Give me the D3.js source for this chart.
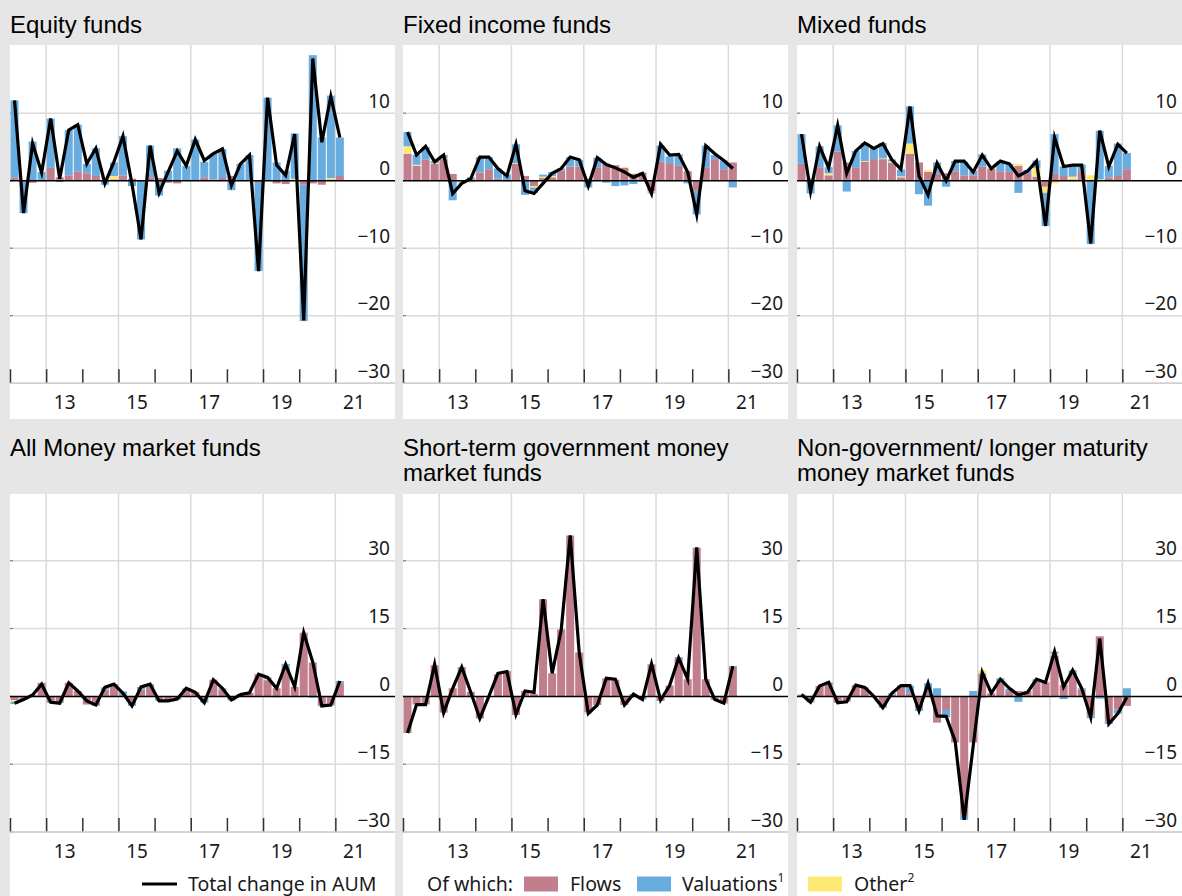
<!DOCTYPE html>
<html><head><meta charset="utf-8">
<script src="https://cdn.jsdelivr.net/npm/d3@7"></script>
<style>body{margin:0;background:#e6e6e6;} svg{display:block}</style>
</head><body><svg id="c" width="1182" height="896"></svg>
<script>
// ---- categories (quarters) ----
const quarters = ["2012Q1","2012Q2","2012Q3","2012Q4","2013Q1","2013Q2","2013Q3","2013Q4",
"2014Q1","2014Q2","2014Q3","2014Q4","2015Q1","2015Q2","2015Q3","2015Q4",
"2016Q1","2016Q2","2016Q3","2016Q4","2017Q1","2017Q2","2017Q3","2017Q4",
"2018Q1","2018Q2","2018Q3","2018Q4","2019Q1","2019Q2","2019Q3","2019Q4",
"2020Q1","2020Q2","2020Q3","2020Q4","2021Q1"];
const yearTicks = [2012,2013,2014,2015,2016,2017,2018,2019,2020,2021];
const gridYears = [2013,2015,2017,2019,2021];
const yearLabels = ["13","15","17","19","21"];
const topTicks = [10,0,-10,-20,-30];
const bottomTicks = [30,15,0,-15,-30];

// ---- Equity funds ----
const eqTotal = [11.9,-4.8,5.5,1.2,9.2,0.3,7.5,8.3,2.5,4.8,-0.4,2.8,6.6,-0.5,-8.7,5.2,-1.8,1.3,4.4,2.2,6.1,3.0,4.0,4.7,-0.7,2.5,3.8,-13.4,12.3,2.3,0.8,6.9,-20.7,18.1,5.7,12.5,6.4];
const eqFlows = [0.5,-0.3,-0.3,-0.1,1.9,0.5,0.8,1.4,1.1,0.7,-0.2,0.2,0.8,0.3,-0.2,0.5,0.4,-0.3,-0.4,0.1,0.1,0.5,0.2,0.4,0.7,0.1,0.1,-0.2,0.1,-0.4,-0.5,0.1,-0.6,-0.4,-0.6,0.2,0.7];
const eqOther = [0,0,0,0,0,0,0,0,0,0,0,0.5,0,0,0,0,0,0,0,0,0,0,0,0,0,0,0,0,0,0,0,0.2,0,0,0,0.2,0];
const eqVal = [11.4,-4.5,5.8,1.3,7.3,-0.2,6.7,6.9,1.4,4.1,-0.4,2.0,5.8,-0.8,-8.5,4.7,-2.2,1.5,4.8,2.1,6.0,2.3,3.8,4.3,-1.4,2.4,3.7,-13.2,12.2,2.7,1.5,6.7,-20.2,18.6,6.4,12.2,5.7];

// ---- Fixed income funds ----
const fiTotal = [7.2,3.8,5.1,2.8,3.8,-1.9,-0.4,0.3,3.5,3.5,1.8,0.7,5.4,-1.5,-1.9,-0.4,1.1,1.8,3.5,3.1,-0.8,3.4,2.4,1.9,1.3,0.5,1.1,-1.9,5.4,3.8,3.9,1.3,-5.0,5.2,4.0,3.0,1.8];
const fiFlows = [4.0,2.2,3.1,2.5,3.2,1.0,-0.1,-0.1,1.2,1.7,0.3,0.0,2.5,0.7,-0.8,0.4,0.5,1.5,2.1,2.1,0.3,1.9,2.5,2.3,1.9,1.0,1.2,-1.6,2.8,2.6,2.2,1.4,-1.5,1.9,3.2,1.7,2.7];
const fiOther = [1.1,0.15,0,0.1,0.1,0,-0.2,-0.2,0,0,0,-0.2,0.1,0,-0.2,0.2,0.2,0,0,0,0,0,0,0,0.15,0.1,0,-0.15,0,0,0,0,0,0,0,0,0];
const fiVal = [2.1,1.5,1.9,0.3,0.5,-2.9,-0.1,0.5,2.3,1.8,1.5,0.9,2.8,-2.1,-0.8,0.3,0.6,0.3,1.4,1.0,-1.0,1.5,-0.3,-0.8,-0.7,-0.5,-0.1,-0.1,2.4,1.0,1.7,-0.4,-3.5,3.3,0.6,1.3,-1.0];

// ---- Mixed funds ----
const mxTotal = [6.9,-1.6,5.1,1.9,8.2,1.1,4.4,5.6,4.8,5.5,3.1,1.7,11.0,0.7,-2.1,2.6,0.0,2.9,2.9,1.3,3.8,1.8,2.9,2.5,0.7,1.4,2.9,-6.7,6.4,2.1,2.3,2.3,-9.3,7.4,2.1,5.4,4.1];
const mxFlows = [2.5,0.3,2.0,0.8,4.3,2.7,2.0,2.8,3.2,3.2,2.7,0.5,4.0,2.7,1.3,1.1,1.1,1.4,0.8,0.8,2.1,1.8,1.4,1.3,2.2,1.0,0.6,-0.9,1.0,0.7,0.2,1.3,-0.2,0.1,0.5,0.7,1.7];
const mxOther = [0,0,0,0.3,0,0,0,0.1,0,0.1,0.15,0.15,1.5,0,0.3,0,0,0,0,0,0,0,0,0,0.3,-0.1,1.3,-0.9,-0.4,0,0.4,0,0.8,0.1,-0.1,0,0];
const mxVal = [4.4,-1.9,3.1,0.9,3.9,-1.6,2.4,2.7,1.8,2.3,0.3,1.0,5.5,-2.0,-3.7,1.6,-0.9,1.5,2.0,0.7,1.8,0,1.5,1.2,-1.8,0.6,1.1,-4.9,5.9,1.4,1.8,1.1,-9.2,7.2,1.7,4.8,2.4];

// ---- All money market funds ----
const amTotal = [-1.5,-0.7,0.3,2.7,-1.3,-1.5,3.0,1.2,-1.0,-1.9,2.0,2.7,0.7,-2.1,2.1,2.7,-1.0,-1.0,-0.6,1.8,0.9,-1.4,3.7,1.8,-0.8,0.4,0.8,4.9,4.2,1.8,7.1,2.1,14.1,7.6,-2.1,-1.9,3.4];
const amFlows = [-0.8,-0.8,0.3,3.0,-1.2,-1.3,3.0,1.2,-1.8,-2.1,1.5,2.7,0.3,-1.5,1.5,2.3,-0.6,-1.0,-0.6,1.5,1.0,-1.0,3.7,1.5,-0.6,0.3,0.8,4.9,3.6,1.8,6.2,2.1,14.1,7.5,-1.9,-1.7,2.9];
const amOther = [-0.4,0,0,0,0,0,0,0,0,0,0,0,0,0,0,0,0,0,0,0,0,0,0,0,0,0,0,0,0.2,0,0,0,0.2,0,0,0,0];
const amVal = [-0.5,0,0,0,-0.2,-0.2,0,0,0,0,0.5,0,0.8,-0.6,0.6,0.4,-0.4,0,-0.1,0.3,0,-0.4,0,0.3,-0.3,0.2,0,0,0.4,-0.2,1.0,0,0,-0.3,-0.3,-0.3,0.5];

// ---- Short-term government MMFs ----
const sgTotal = [-8.1,-1.8,-1.8,7.1,-3.6,1.8,6.5,0.9,-4.9,0.0,5.1,5.5,-4.0,1.2,0.9,21.5,5.1,14.6,35.6,9.6,-3.8,-1.9,4.0,3.8,-1.9,0.5,-0.7,7.2,-0.8,2.4,8.5,3.8,33.0,3.8,-0.7,-1.5,6.7];
const sgFlows = [-8.1,-1.8,-1.7,6.9,-3.6,1.8,6.5,1.0,-4.9,0.0,4.9,5.6,-4.1,1.2,0.5,21.5,5.1,14.8,35.6,9.6,-3.5,-1.9,4.0,3.7,-1.9,0.4,-0.5,7.1,-1.0,2.4,8.5,3.8,32.9,3.8,-0.7,-1.5,6.5];
const sgOther = [0,0,0,0,0,0,0,0,0,0,0,0,0,0,0,0,0,0,0,0,-0.2,0,0,0,0,0,0,0,0,0,0,0,0,0,0,0,0];
const sgVal = [0,0,-0.1,0,0,0,0,0,0,0,0,0,0,0,0,0,0,0,0,0.1,-0.1,0,0,0,0,0.1,-0.2,0,0,0,0.2,0,0,0,-0.1,-0.1,0.2];

// ---- Non-government / longer maturity MMFs ----
const ngTotal = [0.4,-1.3,2.3,3.1,-1.4,-1.2,2.5,2.0,0.0,-2.5,0.7,2.4,2.4,-3.2,2.9,-4.3,-4.4,-9.9,-27.3,-10.9,5.3,0.7,3.8,1.8,0.3,0.9,3.8,3.1,9.9,2.1,5.8,1.8,-4.6,12.8,-6.1,-3.8,-0.2];
const ngFlows = [0,-1.0,2.3,3.1,-1.4,-1.1,2.5,2.0,0,-2.5,0.4,2.4,0.7,-2.5,1.5,-5.8,-3.0,-10.2,-26.2,-10.2,5.1,0.7,3.4,1.2,1.2,1.2,3.6,3.1,9.0,2.5,4.9,1.5,-4.2,13.3,-5.6,-2.9,-2.1];
const ngOther = [0,0,0,0,0,0,0,0,0,0,0,0,0,0,0,0,0,0,0,0,0.7,0,0,0,0,0,0,0,0.5,0,0,0,0,0,0,0,0];
const ngVal = [0.4,-0.3,0,0,0,-0.1,0,0,0,0,0.3,0,1.7,-0.7,1.4,1.8,-1.6,0,-1.1,1.2,-0.3,0,0.6,0.5,-1.2,0,0.2,0,0.4,-0.6,0.9,0.3,-0.6,-0.5,-0.5,-0.9,1.8];

// ---- build panels table from the arrays ----
const panels = [
  {title:["Equity funds"], row:0, col:0, total:eqTotal, flows:eqFlows, other:eqOther, val:eqVal},
  {title:["Fixed income funds"], row:0, col:1, total:fiTotal, flows:fiFlows, other:fiOther, val:fiVal},
  {title:["Mixed funds"], row:0, col:2, total:mxTotal, flows:mxFlows, other:mxOther, val:mxVal},
  {title:["All Money market funds"], row:1, col:0, total:amTotal, flows:amFlows, other:amOther, val:amVal},
  {title:["Short-term government money","market funds"], row:1, col:1, total:sgTotal, flows:sgFlows, other:sgOther, val:sgVal},
  {title:["Non-government/ longer maturity","money market funds"], row:1, col:2, total:ngTotal, flows:ngFlows, other:ngOther, val:ngVal}
];

const colors = {flows:"#c17f8d", val:"#69ade0", other:"#fde974"};
const W=1182, H=896;
const colX=[10,403,797], PW=385;
const rows=[
  {titleBase:[33], whiteTop:45, whiteBot:419, domain:[-30,20], range:[383.2,45.7], ticks:topTicks},
  {titleBase:[456,481], whiteTop:494, whiteBot:896, domain:[-30,45], range:[832,493], ticks:bottomTicks}
];
const LABELFONT = "'Noto Sans', 'DejaVu Sans', sans-serif";
const TITLEFONT = "'Liberation Sans', Arial, sans-serif";
const qTime = q => +q.slice(0,4) + (+q.slice(5)-1)/4;

const svg = d3.select('#c');
svg.append('rect').attr('width',W).attr('height',H).attr('fill','#e6e6e6');

panels.forEach(p=>{
  const r = rows[p.row];
  const x0 = colX[p.col];
  const g = svg.append('g');
  // title
  const t = g.append('text').attr('font-family',TITLEFONT).attr('font-size',24).attr('fill','#000');
  p.title.forEach((s,i)=>t.append('tspan').attr('x',x0).attr('y',r.titleBase[i]).text(s));
  // white area
  g.append('rect').attr('x',x0).attr('y',r.whiteTop).attr('width',PW).attr('height',r.whiteBot-r.whiteTop).attr('fill','#fff');

  const xs = d3.scaleLinear().domain([2012, 2012+PW/36.15]).range([x0, x0+PW]);
  const ys = d3.scaleLinear().domain(r.domain).range(r.range);
  const axisY = ys(r.domain[0]);

  // vertical gridlines
  g.selectAll('.vg').data(gridYears).join('line')
    .attr('x1',d=>xs(d)).attr('x2',d=>xs(d)).attr('y1',r.whiteTop).attr('y2',axisY)
    .attr('stroke','#dadada').attr('stroke-width',1.5);
  // horizontal gridlines
  g.selectAll('.hg').data(r.ticks.filter(d=>d!==0)).join('line')
    .attr('x1',x0).attr('x2',x0+PW).attr('y1',d=>ys(d)).attr('y2',d=>ys(d))
    .attr('stroke','#dadada').attr('stroke-width',1.5);
  // small left ticks
  g.selectAll('.lt').data(r.ticks).join('line')
    .attr('x1',x0).attr('x2',x0+3).attr('y1',d=>ys(d)).attr('y2',d=>ys(d))
    .attr('stroke','#777').attr('stroke-width',1);

  // stacked bars
  const rowsData = quarters.map((q,i)=>({t:qTime(q), flows:p.flows[i], other:p.other[i], val:p.val[i]}));
  const stack = d3.stack().keys(['flows','other','val']).offset(d3.stackOffsetDiverging);
  const layers = stack(rowsData);
  layers.forEach(layer=>{
    g.append('g').selectAll('rect').data(layer).join('rect')
      .attr('x',d=>xs(d.data.t)+0.5)
      .attr('width',d=>xs(d.data.t+0.25)-xs(d.data.t)-1)
      .attr('y',d=>ys(Math.max(d[0],d[1])))
      .attr('height',d=>Math.abs(ys(d[0])-ys(d[1])))
      .attr('fill',colors[layer.key]);
  });

  // zero line
  g.append('line').attr('x1',x0).attr('x2',x0+PW).attr('y1',ys(0)).attr('y2',ys(0))
    .attr('stroke','#000').attr('stroke-width',1.5);

  // total line
  const line = d3.line().x((d,i)=>xs(qTime(quarters[i])+0.125)).y(d=>ys(d));
  g.append('path').attr('d',line(p.total)).attr('fill','none').attr('stroke','#000')
    .attr('stroke-width',3.2).attr('stroke-linejoin','miter').attr('stroke-miterlimit',6);

  // x axis: ticks at years (upward), line
  const xAxis = d3.axisBottom(xs).tickValues(yearTicks).tickSize(-14).tickFormat('');
  const ax = g.append('g').attr('transform',`translate(0,${axisY})`).call(xAxis);
  ax.select('.domain').remove();
  ax.selectAll('.tick line').attr('stroke','#333').attr('stroke-width',1.5);
  g.append('line').attr('x1',x0).attr('x2',x0+PW).attr('y1',axisY).attr('y2',axisY)
    .attr('stroke','#cfcfcf').attr('stroke-width',1.5);

  // x labels at mid-year
  const xLab = d3.axisBottom(xs).tickValues(gridYears.map(d=>d+0.5)).tickSize(0)
    .tickFormat((d,i)=>yearLabels[i]);
  const lx = g.append('g').attr('transform',`translate(0,${axisY})`).call(xLab);
  lx.select('.domain').remove();
  lx.selectAll('text').attr('font-family',LABELFONT).attr('font-size',19).attr('fill','#1a1a1a')
    .attr('dy',null).attr('y',26);

  // y labels (right, above gridline)
  g.selectAll('.yl').data(r.ticks).join('text')
    .attr('x',x0+PW-5).attr('y',d=>ys(d)-5.5).attr('text-anchor','end')
    .attr('font-family',LABELFONT).attr('font-size',19).attr('fill','#1a1a1a')
    .text(d=>d<0?'\u2212'+Math.abs(d):d);
});

// legend
const lg = svg.append('g').attr('font-family',LABELFONT).attr('font-size',19.5).attr('fill','#1a1a1a');
const ly = 884;
lg.append('line').attr('x1',142).attr('x2',177).attr('y1',ly).attr('y2',ly).attr('stroke','#000').attr('stroke-width',3);
lg.append('text').attr('x',188).attr('y',ly+7).text('Total change in AUM');
lg.append('text').attr('x',427).attr('y',ly+7).text('Of which:');
const legItems = [
  {key:'flows', label:'Flows', sup:'', sx:524, tx:570},
  {key:'val', label:'Valuations', sup:'1', sx:637, tx:682},
  {key:'other', label:'Other', sup:'2', sx:808, tx:854}
];
legItems.forEach(it=>{
  lg.append('rect').attr('x',it.sx).attr('y',ly-7.5).attr('width',34).attr('height',15).attr('fill',colors[it.key]);
  const tt = lg.append('text').attr('x',it.tx).attr('y',ly+7).text(it.label);
  if(it.sup) tt.append('tspan').attr('font-size',12).attr('dy',-9).text(it.sup);
});
</script></body></html>
